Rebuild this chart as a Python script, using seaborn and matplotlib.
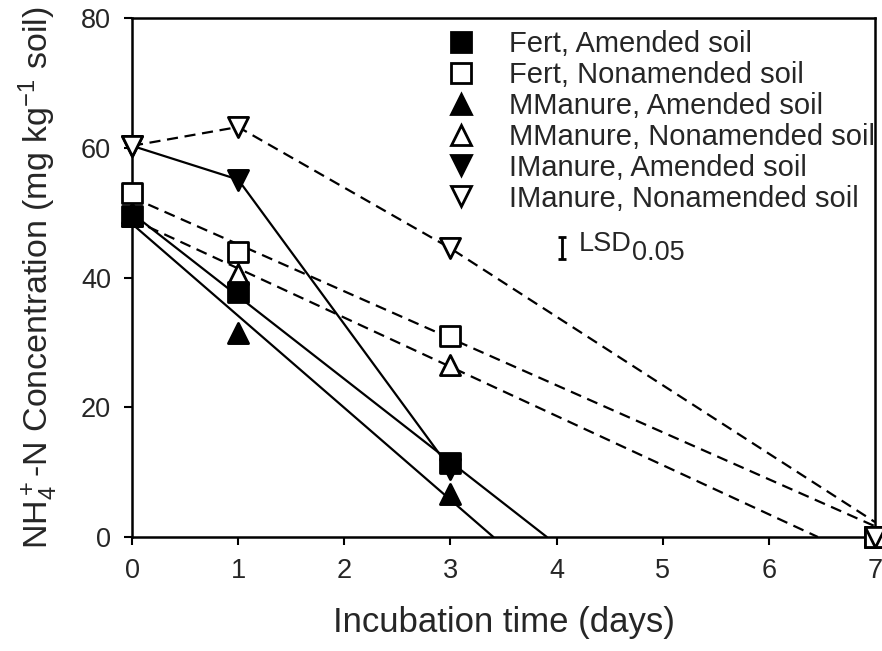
import numpy as np
import pandas as pd
import matplotlib
matplotlib.use("Agg")
import matplotlib.pyplot as plt
from matplotlib.lines import Line2D
import seaborn as sns

# ---------------- data ----------------
days = [0, 1, 3, 7]

fert_am = [49.5, 37.7, 11.4, 0.0]
fert_non = [53.1, 44.0, 31.0, 0.0]
mman_am = [50.0, 31.5, 6.6, 0.0]
mman_non = [49.5, 40.6, 26.5, 0.0]
iman_am = [60.3, 55.1, 10.5, 0.0]
iman_non = [60.3, 63.2, 44.5, 0.0]

# IManure curves are drawn point to point (not regressions)
iman_am_path_days = [0, 1, 3]
iman_am_path = [60.3, 55.1, 10.5]
iman_non_path_days = [0, 1, 3, 7]
iman_non_path = [60.3, 63.2, 44.5, 2.3]

lsd_value = 3.4
lsd_pos = (4.05, 44.6)

labels = ["Fert, Amended soil", "Fert, Nonamended soil",
          "MManure, Amended soil", "MManure, Nonamended soil",
          "IManure, Amended soil", "IManure, Nonamended soil"]

# ---------------- style ----------------
sns.set_style("ticks")
plt.rcParams["font.family"] = ["Liberation Sans", "DejaVu Sans"]
plt.rcParams["mathtext.fontset"] = "custom"
plt.rcParams["mathtext.rm"] = "Liberation Sans"
plt.rcParams["mathtext.it"] = "Liberation Sans:italic"
plt.rcParams["mathtext.default"] = "regular"

fig = plt.figure(figsize=(8.82, 6.51), dpi=100)
ax = fig.add_axes([132 / 882, 1 - 537 / 651, 743 / 882, 519 / 651])

series = {
    labels[0]: (fert_am, "s", "black", "-", "fit"),
    labels[1]: (fert_non, "s", "white", "--", "fit"),
    labels[2]: (mman_am, "^", "black", "-", "fit"),
    labels[3]: (mman_non, "^", "white", "--", "fit"),
    labels[4]: (iman_am, "v", "black", "-", "path"),
    labels[5]: (iman_non, "v", "white", "--", "path"),
}
marker_z = {labels[0]: 4, labels[1]: 5, labels[2]: 4,
            labels[3]: 3, labels[4]: 4, labels[5]: 6}

dash = (0, (5, 3))
msize = 14.5

# ---- lines: linear fits over days 0-3, extended to zero (or day 7) ----
for name, (vals, mk, fc, ls, kind) in series.items():
    if kind == "fit":
        slope, icpt = np.polyfit(days[:3], vals[:3], 1)
        x_end = min(7.0, -icpt / slope)
        lx = [0.0, x_end]
        ly = [icpt, icpt + slope * x_end]
    elif name == labels[4]:
        lx, ly = iman_am_path_days, iman_am_path
    else:
        lx, ly = iman_non_path_days, iman_non_path
    line_df = pd.DataFrame({"x": lx, "y": ly})
    sns.lineplot(data=line_df, x="x", y="y", ax=ax, color="black",
                 linewidth=1.6, linestyle="-" if ls == "-" else dash,
                 zorder=2, sort=False, estimator=None)

# ---- markers ----
for name, (vals, mk, fc, ls, kind) in series.items():
    pt_df = pd.DataFrame({"day": days, "conc": vals})
    sns.scatterplot(data=pt_df, x="day", y="conc", ax=ax, marker=mk,
                    s=msize ** 2, color=fc, edgecolor="black", linewidth=2,
                    zorder=marker_z[name], clip_on=False, legend=False)

# ---- LSD bar ----
ax.errorbar(lsd_pos[0], lsd_pos[1], yerr=lsd_value / 2, fmt="none",
            ecolor="black", elinewidth=2, capsize=3, capthick=2)
lsd_txt = ax.text(lsd_pos[0] + 0.16, lsd_pos[1] + 0.5, "LSD", fontsize=19.5,
                  va="center", ha="left")
ax.annotate("0.05", xy=(1.0, 0.5), xycoords=lsd_txt, xytext=(0, -6),
            textcoords="offset points", fontsize=19.5, va="center", ha="left")

# ---- axes ----
ax.set_xlim(0, 7)
ax.set_ylim(0, 80)
ax.set_xticks(range(0, 8))
ax.set_yticks(range(0, 81, 20))
ax.tick_params(axis="both", labelsize=19.5, length=6, width=1.5,
               direction="out", color="black", pad=9)
for sp in ax.spines.values():
    sp.set_linewidth(1.8)
    sp.set_color("black")
ax.set_xlabel("Incubation time (days)", fontsize=25, labelpad=16)
ax.set_ylabel(r"NH$_4^+$-N Concentration (mg kg$^{-1}$ soil)", fontsize=24.5,
              labelpad=15)

# ---- legend ----
handles = []
for name, (vals, mk, fc, ls, kind) in series.items():
    handles.append(Line2D([], [], linestyle="none", marker=mk, markersize=msize,
                          markerfacecolor=fc, markeredgecolor="black",
                          markeredgewidth=2))
leg = ax.legend(handles, labels, loc="upper left",
                bbox_to_anchor=((446 - 132) / 743, 1 - (30 - 18) / 519),
                frameon=False, fontsize=21, handlelength=1.0,
                handletextpad=1.15, labelspacing=0.1, borderpad=0,
                borderaxespad=0)

fig.savefig("out.png", dpi=100)
